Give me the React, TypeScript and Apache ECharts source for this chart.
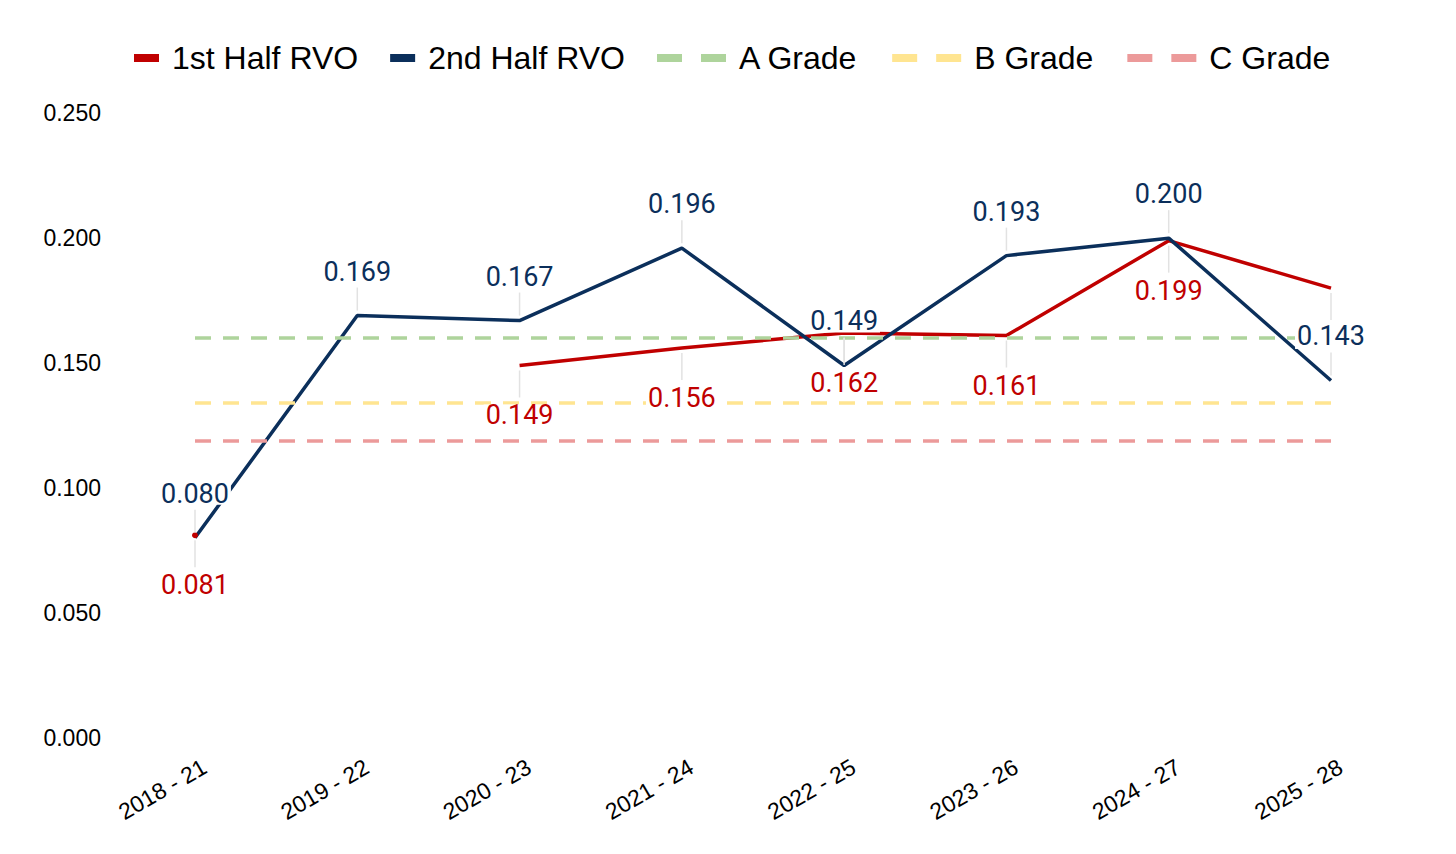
import React, { useEffect, useRef } from 'react';
import * as echarts from 'echarts';

const categories = ['2018 - 21', '2019 - 22', '2020 - 23', '2021 - 24', '2022 - 25', '2023 - 26', '2024 - 27', '2025 - 28'];
const firstHalfRVO: (number | null)[] = [0.081, null, 0.149, 0.156, 0.162, 0.161, 0.199, 0.18];
const secondHalfRVO: (number | null)[] = [0.08, 0.169, 0.167, 0.196, 0.149, 0.193, 0.2, 0.143];
const gradeNames = ['A Grade', 'B Grade', 'C Grade'];
const gradeValues = [0.16, 0.134, 0.119];
const yMin = 0;
const yMax = 0.25;
const yInterval = 0.05;

const RED = '#C00000';
const BLUE = '#0B2F5B';
const gradeColors = ['#AED49C', '#FFE591', '#EC9A9A'];
const SANS = "'Liberation Sans', Arial, sans-serif";

function labelSeries(name: string, values: (number | null)[], color: string, above: boolean) {
  const data = values
    .map((v, i) => (v == null ? null : [i, v]))
    .filter((d) => d !== null);
  return {
    type: 'custom',
    name,
    silent: true,
    z: 10,
    encode: { x: 0, y: 1 },
    data,
    renderItem: (params: any, api: any) => {
      const x = api.value(0);
      const v = api.value(1);
      const p = api.coord([x, v]);
      const d = above ? -1 : 1;
      return {
        type: 'group',
        children: [
          {
            type: 'line',
            shape: { x1: p[0], y1: p[1] + d * 5, x2: p[0], y2: p[1] + d * (above ? 28 : 32) },
            style: { stroke: '#E2E2E2', lineWidth: 1.5 },
          },
          {
            type: 'text',
            x: p[0],
            y: p[1] + d * (above ? 44 : 50),
            style: {
              text: Number(v).toFixed(3),
              fill: color,
              fontSize: 27,
              fontFamily: 'Roboto',
              align: 'center',
              verticalAlign: 'middle',
              backgroundColor: '#ffffff',
              padding: [0, 2],
              lineHeight: 22,
            },
          },
        ],
      };
    },
  };
}

export default function App() {
  const ref = useRef<HTMLDivElement>(null);

  useEffect(() => {
    if (!ref.current) return;
    const chart = echarts.init(ref.current, undefined, { renderer: 'svg' });

    const gradeSeries = gradeNames.map((name, i) => ({
      type: 'line',
      name,
      data: [],
      color: gradeColors[i],
      lineStyle: { color: gradeColors[i], type: [16, 12], width: 3.5 },
      itemStyle: { color: gradeColors[i] },
      markLine: {
        silent: true,
        symbol: 'none',
        precision: 4,
        label: { show: false },
        lineStyle: { color: gradeColors[i], type: [16, 12], width: 3.5 },
        data: [{ yAxis: gradeValues[i] }],
      },
    }));

    chart.setOption({
      animation: false,
      backgroundColor: '#ffffff',
      legend: [
        {
          left: 129,
          top: 37,
          icon: 'rect',
          itemWidth: 25,
          itemHeight: 8,
          itemGap: 32,
          selectedMode: false,
          itemStyle: { borderWidth: 0 },
          textStyle: { fontSize: 32, fontFamily: SANS, color: '#000', padding: [0, 0, 0, 8] },
          data: ['1st Half RVO', '2nd Half RVO'],
        },
        {
          left: 652,
          top: 37,
          icon: 'path://M0,0h25v8h-25zM44,0h25v8h-25z',
          itemWidth: 69,
          itemHeight: 8,
          itemGap: 34,
          selectedMode: false,
          itemStyle: { borderWidth: 0 },
          textStyle: { fontSize: 32, fontFamily: SANS, color: '#000', padding: [0, 0, 0, 8] },
          data: gradeNames,
        },
      ],
      grid: {
        left: 195,
        right: 125,
        top: 113.3,
        bottom: 116.5,
        containLabel: false,
        outerBoundsMode: 'none',
      },
      xAxis: {
        type: 'category',
        data: categories,
        boundaryGap: false,
        axisLine: { show: false },
        axisTick: { show: false },
        splitLine: { show: false },
        axisLabel: {
          rotate: 30,
          interval: 0,
          margin: 33,
          padding: [0, -11, 0, 0],
          fontSize: 23,
          fontFamily: SANS,
          color: '#000',
        },
      },
      yAxis: {
        type: 'value',
        min: yMin,
        max: yMax,
        interval: yInterval,
        axisLine: { show: false },
        axisTick: { show: false },
        splitLine: { show: false },
        axisLabel: {
          margin: 94,
          fontSize: 23,
          fontFamily: SANS,
          color: '#000',
          formatter: (v: number) => v.toFixed(3),
        },
      },
      series: [
        {
          type: 'line',
          name: '1st Half RVO',
          color: RED,
          symbol: 'none',
          showSymbol: true,
          connectNulls: false,
          lineStyle: { color: RED, width: 3.5 },
          itemStyle: { color: RED },
          data: firstHalfRVO.map((v, i) =>
            i === 0 && v != null ? { value: v, symbol: 'circle', symbolSize: 6 } : v == null ? '-' : v
          ),
        },
        {
          type: 'line',
          name: '2nd Half RVO',
          color: BLUE,
          symbol: 'none',
          lineStyle: { color: BLUE, width: 3.5 },
          itemStyle: { color: BLUE },
          data: secondHalfRVO.map((v) => (v == null ? '-' : v)),
        },
        ...gradeSeries,
        labelSeries('1st labels', firstHalfRVO, RED, false),
        labelSeries('2nd labels', secondHalfRVO, BLUE, true),
      ],
    });

    return () => chart.dispose();
  }, []);

  return (
    <div
      ref={ref}
      style={{ position: 'fixed', left: 0, top: 0, width: 1456, height: 854, background: '#fff' }}
    />
  );
}
